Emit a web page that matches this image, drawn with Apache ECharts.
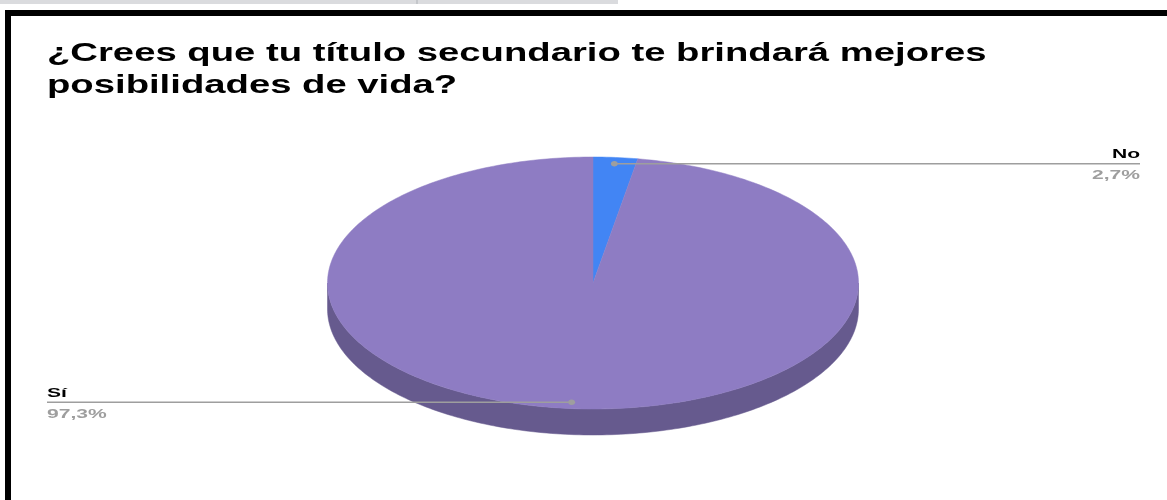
<!DOCTYPE html>
<html>
<head>
<meta charset="utf-8">
<script src="https://cdn.jsdelivr.net/npm/echarts@6/dist/echarts.min.js"></script>
<style>
  html, body { margin: 0; padding: 0; background: #ffffff; }
  #chart { width: 1167px; height: 500px; }
</style>
</head>
<body>
<div id="chart"></div>
<script>
// Survey answers
var categories = ['No', 'Sí'];
var values = [2.7, 97.3];
var percentLabels = ['2,7%', '97,3%'];
var titleText = '¿Crees que tu título secundario te brindará mejores\nposibilidades de vida?';

var topColors = ['#4285f4', '#8e7cc3'];
var sideColors = ['#2f5fae', '#665a8e'];

// Ellipse geometry for the tilted pie
var CX = 593, CY = 283, RX = 265.5, RY = 126, DEPTH = 26;
var LABEL_RIGHT = 1140, LABEL_LEFT = 47;
var TEXT_SCALE_X = 1.62;

var total = values.reduce(function (a, b) { return a + b; }, 0);
var starts = [];
(function () {
  var acc = 0;
  for (var i = 0; i < values.length; i++) { starts.push(acc); acc += values[i]; }
})();

function pt(t, dy) {
  return [CX + RX * Math.sin(t), CY - RY * Math.cos(t) + (dy || 0)];
}
function arcPoints(t1, t2, dy) {
  var pts = [];
  var n = Math.max(2, Math.ceil(Math.abs(t2 - t1) / (Math.PI / 180)));
  for (var k = 0; k <= n; k++) pts.push(pt(t1 + (t2 - t1) * k / n, dy));
  return pts;
}

function renderItem(params, api) {
  var i = params.dataIndex;
  var v = api.value(0);
  var t1 = starts[i] / total * Math.PI * 2;
  var t2 = t1 + v / total * Math.PI * 2;
  var children = [];

  // visible front wall: parametric angles between 90° and 270°
  var a = Math.max(t1, Math.PI / 2), b = Math.min(t2, Math.PI * 1.5);
  if (b > a) {
    var upper = arcPoints(a, b, 0);
    var lower = arcPoints(b, a, DEPTH);
    children.push({
      type: 'polygon',
      shape: { points: upper.concat(lower) },
      style: { fill: sideColors[i], stroke: sideColors[i], lineWidth: 0.5 }
    });
  }

  // top face
  var face = [[CX, CY]].concat(arcPoints(t1, t2, 0));
  children.push({
    type: 'polygon',
    shape: { points: face },
    style: { fill: topColors[i], stroke: topColors[i], lineWidth: 0.5 }
  });

  // leader dot and line
  var mid = (t1 + t2) / 2;
  var dot = [CX + 0.95 * RX * Math.sin(mid), CY - 0.95 * RY * Math.cos(mid)];
  var rightSide = Math.sin(mid) >= 0;
  var endX = rightSide ? LABEL_RIGHT : LABEL_LEFT;
  children.push({
    type: 'line',
    shape: { x1: dot[0], y1: dot[1], x2: endX, y2: dot[1] },
    style: { stroke: '#9e9e9e', lineWidth: 1.5 },
    z2: 10
  });
  children.push({
    type: 'ellipse',
    shape: { cx: dot[0], cy: dot[1], rx: 3.5, ry: 2.8 },
    style: { fill: '#9e9e9e' },
    z2: 11
  });

  var align = rightSide ? 'right' : 'left';
  children.push({
    type: 'text',
    x: endX, y: dot[1] - 9,
    scaleX: TEXT_SCALE_X,
    style: {
      text: categories[i], x: 0, y: 0, align: align, verticalAlign: 'middle',
      font: 'bold 13px "Liberation Sans", Arial, sans-serif', fill: '#000000'
    },
    z2: 12
  });
  children.push({
    type: 'text',
    x: endX, y: dot[1] + 12,
    scaleX: TEXT_SCALE_X,
    style: {
      text: percentLabels[i], x: 0, y: 0, align: align, verticalAlign: 'middle',
      font: 'bold 13px "Liberation Sans", Arial, sans-serif', fill: '#9e9e9e'
    },
    z2: 12
  });

  return { type: 'group', children: children };
}

var chart = echarts.init(document.getElementById('chart'), null, { renderer: 'canvas' });
chart.setOption({
  animation: false,
  backgroundColor: '#ffffff',
  graphic: [
    { type: 'rect', shape: { x: 0, y: 0, width: 618, height: 4 }, style: { fill: '#dadbde' }, z: 1 },
    { type: 'rect', shape: { x: 416, y: 0, width: 2, height: 4 }, style: { fill: '#c4c6ca' }, z: 2 },
    { type: 'rect', shape: { x: 8, y: 13, width: 1200, height: 600 },
      style: { fill: 'none', stroke: '#000000', lineWidth: 6 }, z: 3 },
    { type: 'text', x: 47, y: 38, scaleX: 1.53, z: 4,
      style: {
        text: titleText, x: 0, y: 0, align: 'left', verticalAlign: 'top',
        font: 'bold 25px "Liberation Sans", Arial, sans-serif', lineHeight: 32, fill: '#000000'
      } }
  ],
  series: [{
    type: 'custom',
    coordinateSystem: 'none',
    renderItem: renderItem,
    data: categories.map(function (c, i) { return { name: c, value: [values[i]] }; })
  }]
});
</script>
</body>
</html>
